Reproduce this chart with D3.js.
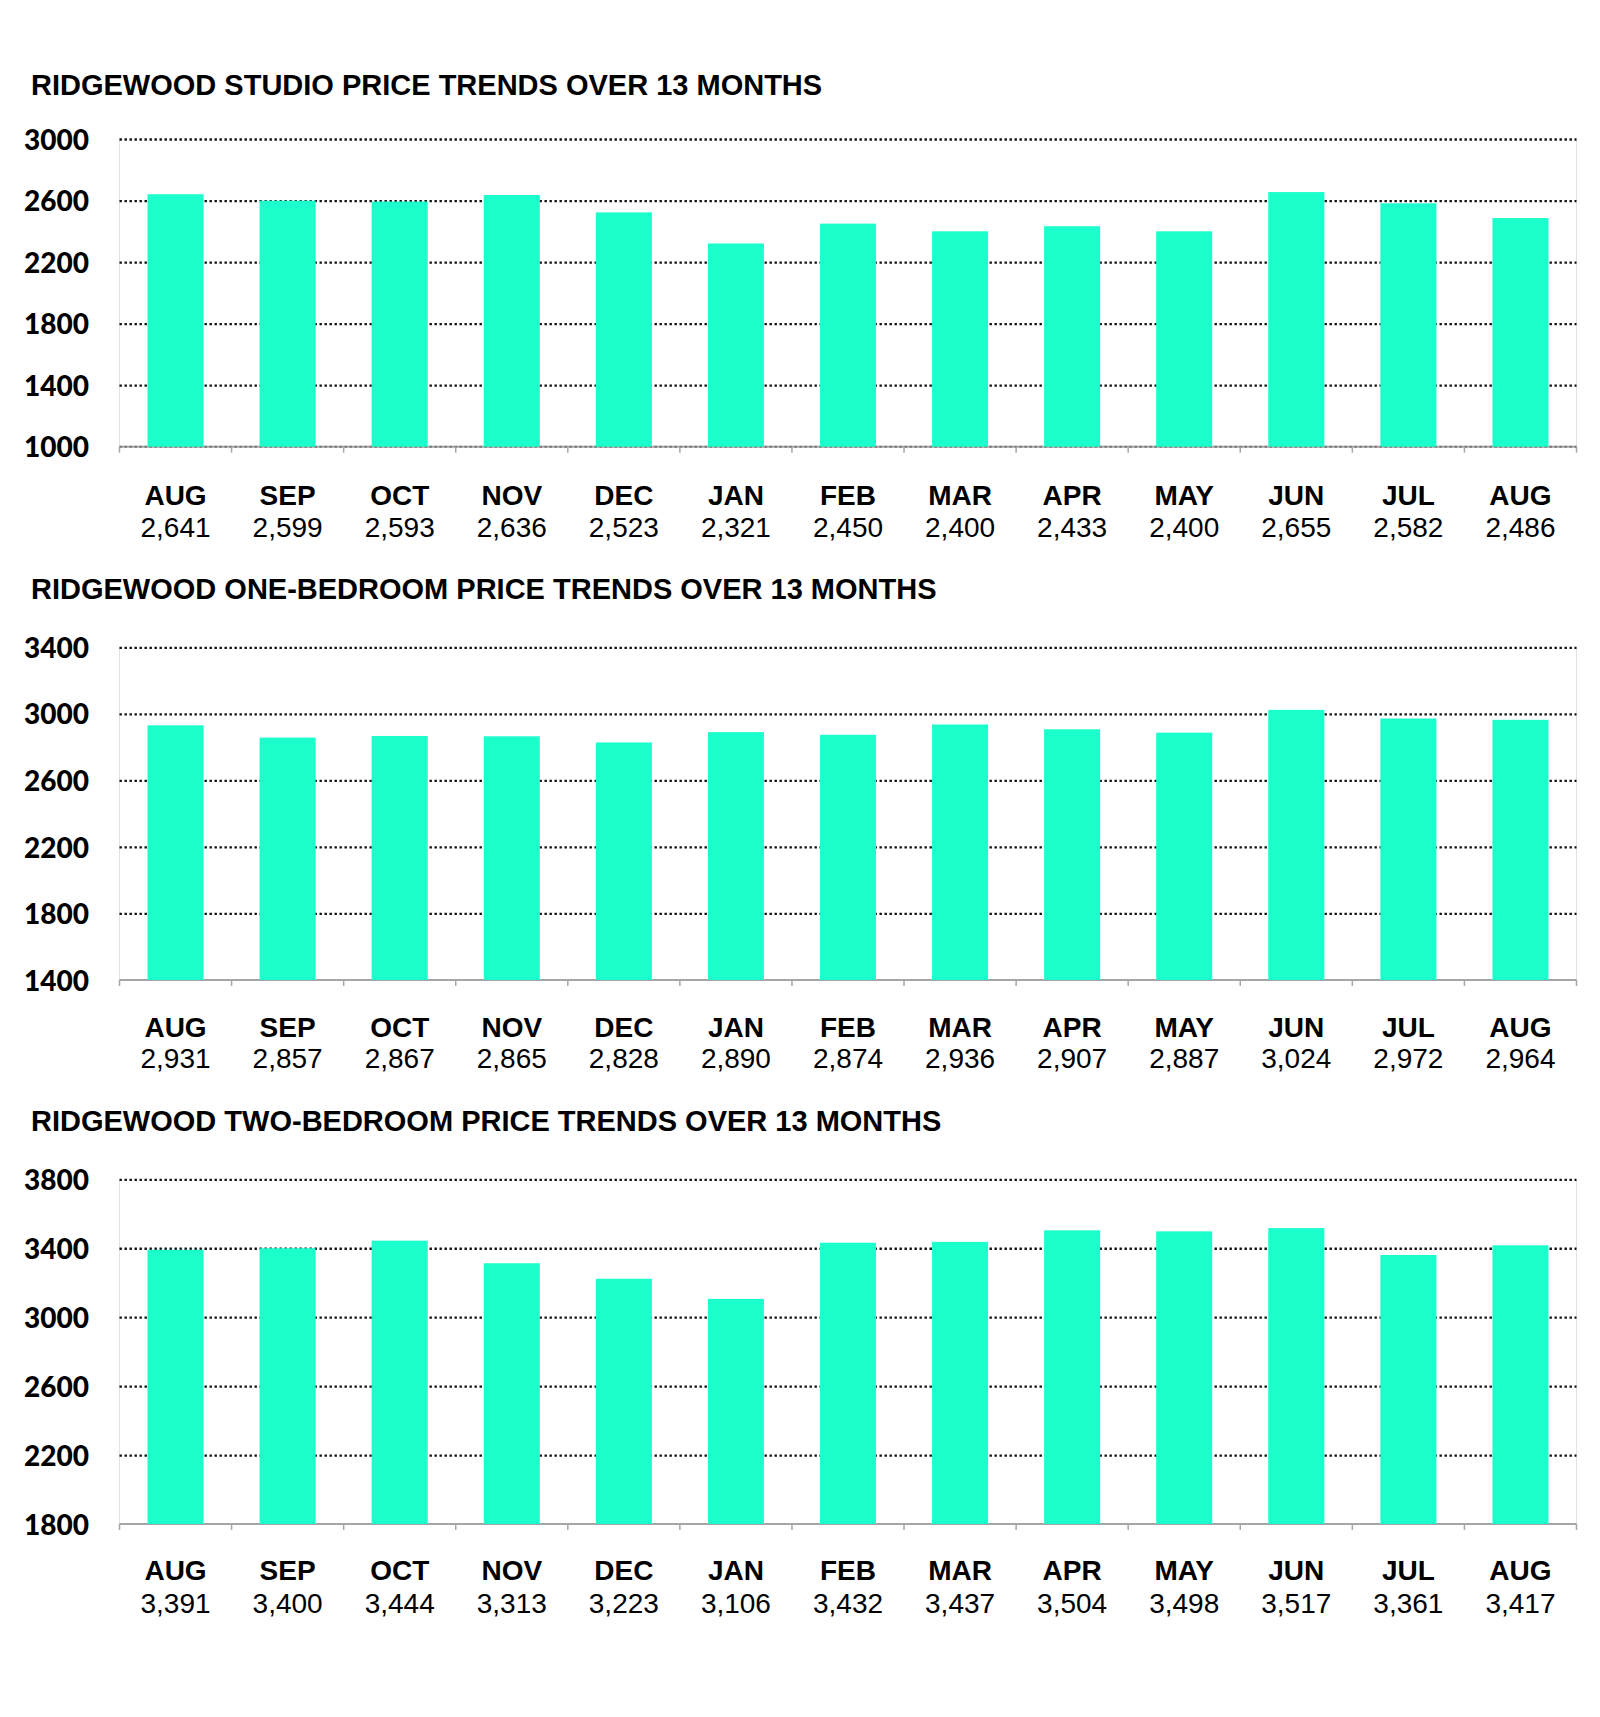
<!DOCTYPE html>
<html>
<head>
<meta charset="utf-8">
<script src="https://cdn.jsdelivr.net/npm/d3@7"></script>
<style>
  body { margin: 0; background: #fff; }
  svg { display: block; }
</style>
</head>
<body>
<div id="wrapper"></div>
<script>
// data
const months = ['AUG', 'SEP', 'OCT', 'NOV', 'DEC', 'JAN', 'FEB', 'MAR', 'APR', 'MAY', 'JUN', 'JUL', 'AUG'];

const studioPrices = [2641, 2599, 2593, 2636, 2523, 2321, 2450, 2400, 2433, 2400, 2655, 2582, 2486];
const oneBedPrices = [2931, 2857, 2867, 2865, 2828, 2890, 2874, 2936, 2907, 2887, 3024, 2972, 2964];
const twoBedPrices = [3391, 3400, 3444, 3313, 3223, 3106, 3432, 3437, 3504, 3498, 3517, 3361, 3417];

const studioTicks = [1000, 1400, 1800, 2200, 2600, 3000];
const oneBedTicks = [1400, 1800, 2200, 2600, 3000, 3400];
const twoBedTicks = [1800, 2200, 2600, 3000, 3400, 3800];

const titles = [
  'RIDGEWOOD STUDIO PRICE TRENDS OVER 13 MONTHS',
  'RIDGEWOOD ONE-BEDROOM PRICE TRENDS OVER 13 MONTHS',
  'RIDGEWOOD TWO-BEDROOM PRICE TRENDS OVER 13 MONTHS'
];

// layout
const dimensions = { width: 1600, height: 1717, left: 119.5, right: 1576.5 };
const panels = [
  { values: studioPrices, ticks: studioTicks, top: 139, bottom: 446.7, titleY: 95, monthY: 505, valueY: 537, dottedBase: true },
  { values: oneBedPrices, ticks: oneBedTicks, top: 647.3, bottom: 980, titleY: 599, monthY: 1037, valueY: 1068, dottedBase: false },
  { values: twoBedPrices, ticks: twoBedTicks, top: 1179.3, bottom: 1524, titleY: 1131, monthY: 1580, valueY: 1613, dottedBase: false }
];

const svg = d3.select('#wrapper').append('svg')
  .attr('width', dimensions.width)
  .attr('height', dimensions.height);

svg.append('rect')
  .attr('width', dimensions.width)
  .attr('height', dimensions.height)
  .attr('fill', '#fff');

const fmt = d3.format(',');

panels.forEach((p, k) => {
  const g = svg.append('g');

  const xScale = d3.scaleBand()
    .domain(d3.range(months.length))
    .range([dimensions.left, dimensions.right])
    .paddingInner(0.5)
    .paddingOuter(0.25);

  const yScale = d3.scaleLinear()
    .domain(d3.extent(p.ticks))
    .range([p.bottom, p.top]);

  // title
  g.append('text')
    .attr('x', 31)
    .attr('y', p.titleY)
    .attr('font-family', 'Liberation Sans, Arial, sans-serif')
    .attr('font-weight', 'bold')
    .attr('font-size', 29)
    .attr('fill', '#000')
    .text(titles[k]);

  // faint frame lines left/right
  [dimensions.left, dimensions.right].forEach(xx => {
    g.append('line')
      .attr('x1', xx).attr('x2', xx)
      .attr('y1', p.top).attr('y2', p.bottom)
      .attr('stroke', '#e2e2e2')
      .attr('stroke-width', 1);
  });

  // dotted grid
  const gridValues = p.ticks.filter(t => t !== p.ticks[0]);
  const gridGenerator = d3.axisLeft(yScale)
    .tickValues(gridValues)
    .tickSize(-(dimensions.right - dimensions.left))
    .tickFormat('');
  const grid = g.append('g')
    .attr('transform', `translate(${dimensions.left},0)`)
    .call(gridGenerator);
  grid.select('.domain').remove();
  grid.selectAll('.tick line')
    .attr('stroke', '#111')
    .attr('stroke-width', 2.3)
    .attr('stroke-dasharray', '2.4,2.6');

  // y labels
  const yAxisGenerator = d3.axisLeft(yScale)
    .tickValues(p.ticks)
    .tickSize(0)
    .tickPadding(0)
    .tickFormat(d3.format('d'));
  const yAxis = g.append('g')
    .attr('transform', `translate(89,0)`)
    .call(yAxisGenerator);
  yAxis.select('.domain').remove();
  yAxis.selectAll('text')
    .attr('font-family', 'Lato, sans-serif')
    .attr('font-weight', 900)
    .attr('font-size', 28)
    .attr('fill', '#000')
    .attr('dy', '0.36em');

  // x axis line and ticks at category boundaries
  g.append('line')
    .attr('x1', dimensions.left).attr('x2', dimensions.right)
    .attr('y1', p.bottom).attr('y2', p.bottom)
    .attr('stroke', '#a6a6a6')
    .attr('stroke-width', 2);
  if (p.dottedBase) {
    g.append('line')
      .attr('x1', dimensions.left).attr('x2', dimensions.right)
      .attr('y1', p.bottom).attr('y2', p.bottom)
      .attr('stroke', '#777')
      .attr('stroke-width', 2)
      .attr('stroke-dasharray', '2.4,2.6');
  }
  g.selectAll('.xtick')
    .data(d3.range(months.length + 1))
    .join('line')
    .attr('class', 'xtick')
    .attr('x1', i => dimensions.left + i * xScale.step())
    .attr('x2', i => dimensions.left + i * xScale.step())
    .attr('y1', p.bottom)
    .attr('y2', p.bottom + 6)
    .attr('stroke', '#a6a6a6')
    .attr('stroke-width', 1.5);

  // bars
  g.selectAll('.bar')
    .data(p.values)
    .join('rect')
    .attr('class', 'bar')
    .attr('x', (d, i) => xScale(i))
    .attr('width', xScale.bandwidth())
    .attr('y', d => yScale(d))
    .attr('height', d => p.bottom - yScale(d))
    .attr('fill', '#1affcc');

  // month labels
  g.selectAll('.month')
    .data(months)
    .join('text')
    .attr('class', 'month')
    .attr('x', (d, i) => xScale(i) + xScale.bandwidth() / 2)
    .attr('y', p.monthY)
    .attr('text-anchor', 'middle')
    .attr('font-family', 'Liberation Sans, Arial, sans-serif')
    .attr('font-weight', 'bold')
    .attr('font-size', 28)
    .attr('fill', '#000')
    .text(d => d);

  // value labels
  g.selectAll('.value')
    .data(p.values)
    .join('text')
    .attr('class', 'value')
    .attr('x', (d, i) => xScale(i) + xScale.bandwidth() / 2)
    .attr('y', p.valueY)
    .attr('text-anchor', 'middle')
    .attr('font-family', 'Liberation Sans, Arial, sans-serif')
    .attr('font-size', 28)
    .attr('fill', '#000')
    .text(d => fmt(d));
});
</script>
</body>
</html>
